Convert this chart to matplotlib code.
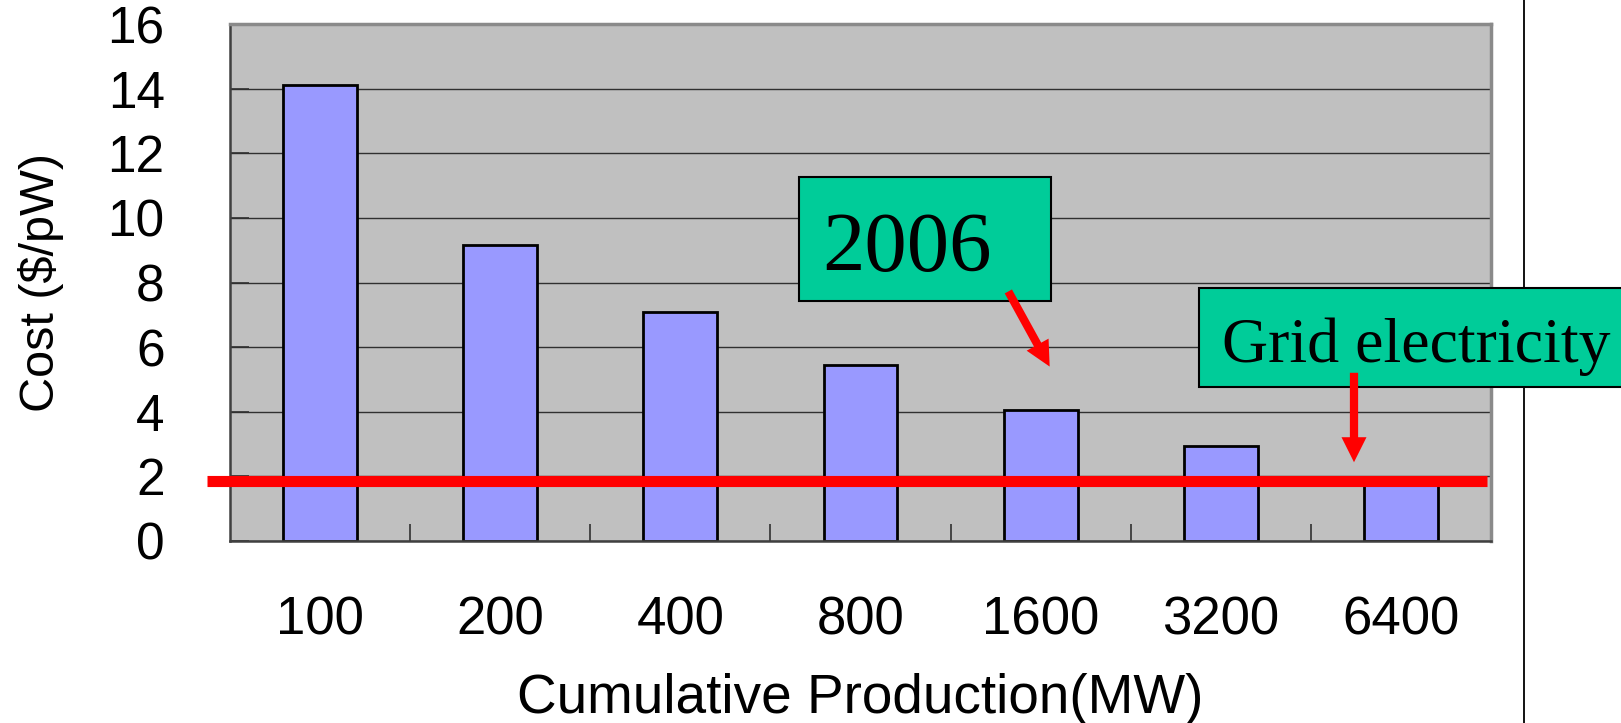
import matplotlib
matplotlib.use('Agg')
import matplotlib.pyplot as plt
from matplotlib.patches import Rectangle, FancyArrowPatch
from matplotlib.lines import Line2D
import numpy as np

plt.rcParams['font.family'] = ['Liberation Sans', 'DejaVu Sans']

# data
production_mw = ['100', '200', '400', '800', '1600', '3200', '6400']
cost_per_w = [14.1, 9.15, 7.1, 5.45, 4.05, 2.95, 1.9]
grid_cost = 1.87

W, H = 1621, 723
fig = plt.figure(figsize=(W / 100, H / 100), dpi=100)


# pixel position (from top-left) -> figure fraction
def px(x, y):
    return x / W, 1 - y / H


ax_l, ax_t, ax_r, ax_b = 230, 24, 1491, 541
ax = fig.add_axes([ax_l / W, 1 - ax_b / H, (ax_r - ax_l) / W, (ax_b - ax_t) / H])
ax.set_facecolor('#C0C0C0')
ax.set_axisbelow(True)

x = np.arange(len(production_mw))
ax.bar(x, cost_per_w, width=0.41, color='#9999FF', edgecolor='black', linewidth=2.0, zorder=2)

# grid electricity level
ax.plot([-0.63, 6.48], [grid_cost, grid_cost], color='#FF0000', linewidth=8,
        solid_capstyle='butt', clip_on=False, zorder=4)

ax.set_xlim(-0.5, len(production_mw) - 0.5)
ax.set_ylim(0, 16)
ax.set_yticks(np.arange(0, 17, 2))
ax.set_xticks(x)
ax.set_xticklabels(production_mw)
ax.set_xticks(np.arange(0.5, len(production_mw) - 0.5, 1), minor=True)

ax.yaxis.grid(True, color='#303030', linewidth=1.0)
ax.tick_params(axis='y', direction='in', length=14, width=1.2, color='#303030',
               labelsize=37, pad=47)
ax.tick_params(axis='x', which='major', length=0, labelsize=38, pad=39)
ax.tick_params(axis='x', which='minor', direction='in', length=12, width=1.2, color='#303030')

for side in ['top', 'right']:
    ax.spines[side].set_color('#8a8a8a')
    ax.spines[side].set_linewidth(2.5)
for side in ['left', 'bottom']:
    ax.spines[side].set_color('#404040')
    ax.spines[side].set_linewidth(1.8)

ax.set_xlabel('Cumulative Production(MW)', fontsize=39.5, va='baseline')
ax.xaxis.set_label_coords(0.5, (ax_b - 713) / (ax_b - ax_t))
ax.set_ylabel('Cost ($/pW)', fontsize=35)
ax.yaxis.set_label_coords((64 - ax_l) / (ax_r - ax_l), 0.5)

# vertical line at the right
fig.add_artist(Line2D([1524 / W, 1524 / W], [0, 1], color='black', linewidth=1.3,
                      transform=fig.transFigure))

# "2006" box
x0, y0 = px(799, 301)
x1, y1 = px(1051, 177)
fig.add_artist(Rectangle((x0, y0), x1 - x0, y1 - y0, facecolor='#00CC99', edgecolor='black',
                         linewidth=1.5, transform=fig.transFigure, zorder=5))
fig.text(*px(822, 271), '2006', fontsize=61, family='Liberation Serif', ha='left',
         va='baseline', zorder=6)

# "Grid electricity" box
x0, y0 = px(1199, 387)
x1, y1 = px(1640, 288)
fig.add_artist(Rectangle((x0, y0), x1 - x0, y1 - y0, facecolor='#00CC99', edgecolor='black',
                         linewidth=1.5, transform=fig.transFigure, zorder=5))
fig.text(*px(1222, 362), 'Grid electricity', fontsize=46, family='Liberation Serif',
         ha='left', va='baseline', zorder=6)

# red arrows
style = 'simple,head_length=1.0,head_width=1.0,tail_width=0.33'
fig.add_artist(FancyArrowPatch(px(1007, 289), px(1051, 369), arrowstyle=style,
                               mutation_scale=18, color='#FF0000', linewidth=0,
                               transform=fig.transFigure, zorder=7))
fig.add_artist(FancyArrowPatch(px(1354, 370), px(1354, 465), arrowstyle=style,
                               mutation_scale=18, color='#FF0000', linewidth=0,
                               transform=fig.transFigure, zorder=7))

fig.savefig('out.png', dpi=100)
